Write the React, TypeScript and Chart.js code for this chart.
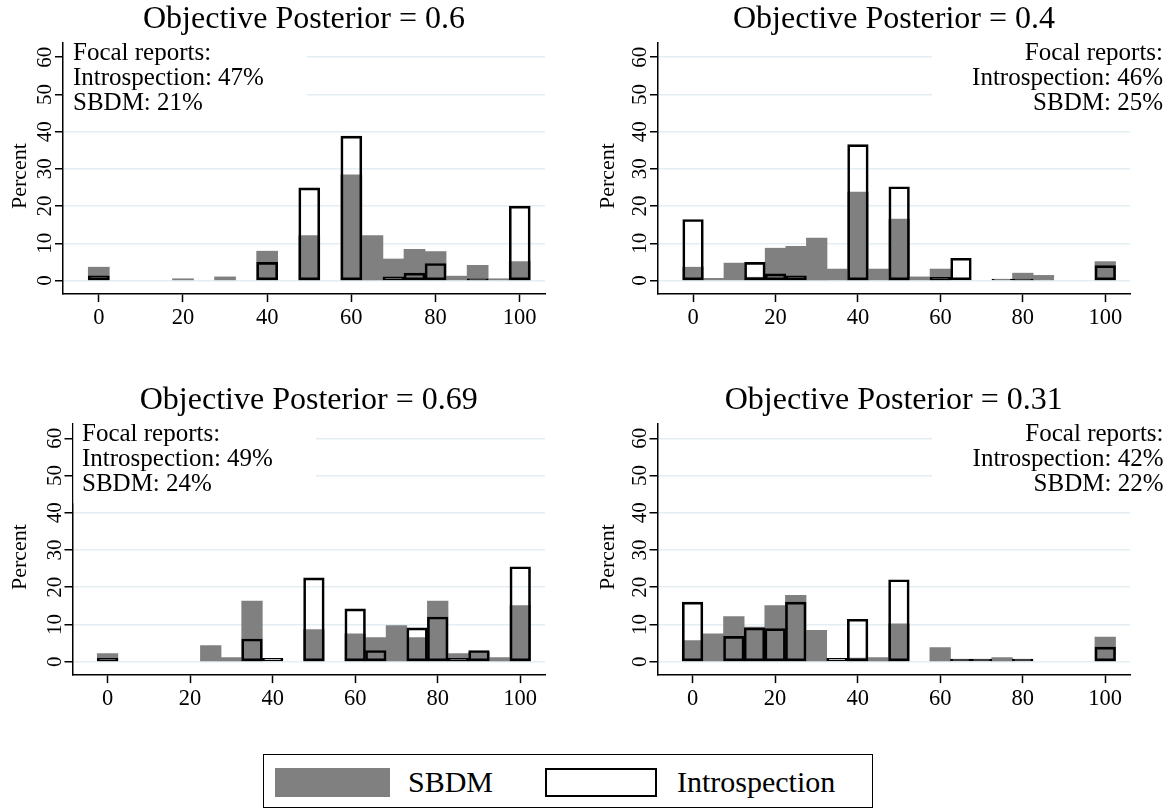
import React, { useEffect, useRef } from "react";
import { Chart, registerables } from "chart.js";
Chart.register(...registerables);

const FONT = "'Liberation Serif', 'Times New Roman', Times, serif";

// ---------- data ----------
const binCenters = [0, 5, 10, 15, 20, 25, 30, 35, 40, 45, 50, 55, 60, 65, 70, 75, 80, 85, 90, 95, 100];
const xTickValues = [0, 20, 40, 60, 80, 100];
const yTickValues = [0, 10, 20, 30, 40, 50, 60];

const titles = [
  "Objective Posterior = 0.6",
  "Objective Posterior = 0.4",
  "Objective Posterior = 0.69",
  "Objective Posterior = 0.31",
];

//                 0    5     10    15    20    25    30    35    40    45    50    55    60    65    70    75    80    85    90    95    100
const sbdm060 = [3.6, null, null, null, 0.5, null, 1.0, null, 7.9, null, 12.1, null, 28.4, 12.1, 5.8, 8.4, 7.8, 1.2, 4.1, 0.5, 5.1];
const intro060 = [1.3, null, null, null, null, null, null, null, 4.9, null, 24.9, null, 38.8, null, 1.0, 2.0, 4.6, null, 0.5, null, 20.0];

const sbdm040 = [3.6, 0.6, 4.7, 0.9, 8.7, 9.2, 11.4, 3.1, 23.8, 3.1, 16.5, 1.0, 3.1, null, null, null, 2.0, 1.4, null, null, 5.1];
const intro040 = [16.4, null, null, 4.9, 1.8, 1.3, null, null, 36.5, null, 25.2, null, 0.9, 6.0, null, 0.4, 0.4, null, null, null, 4.0];

const sbdm069 = [2.2, null, null, null, null, 4.3, 1.1, 16.3, null, null, 8.6, null, 7.5, 6.5, 9.7, 6.5, 16.3, 2.2, 2.5, 1.1, 15.1];
const intro069 = [0.9, null, null, null, null, null, null, 6.1, 0.9, null, 22.5, null, 14.2, 3.0, null, 9.1, 12.0, 0.9, 3.0, null, 25.5];

const sbdm031 = [5.7, 7.5, 12.1, 9.3, 15.1, 17.8, 8.4, null, 1.0, 1.1, 10.2, null, 3.8, null, null, 1.1, null, null, null, null, 6.6];
const intro031 = [16.0, null, 6.8, 9.1, 8.9, 16.0, null, 0.9, 11.4, null, 22.0, null, null, 0.7, 0.7, null, 0.7, null, null, null, 3.9];

const focal060 = ["Focal reports:", "Introspection: 47%", "SBDM: 21%"];
const focal040 = ["Focal reports:", "Introspection: 46%", "SBDM: 25%"];
const focal069 = ["Focal reports:", "Introspection: 49%", "SBDM: 24%"];
const focal031 = ["Focal reports:", "Introspection: 42%", "SBDM: 22%"];

const legendLabels = ["SBDM", "Introspection"];
const yAxisTitle = "Percent";

const panelData = [
  { title: titles[0], sbdm: sbdm060, intro: intro060, focal: focal060 },
  { title: titles[1], sbdm: sbdm040, intro: intro040, focal: focal040 },
  { title: titles[2], sbdm: sbdm069, intro: intro069, focal: focal069 },
  { title: titles[3], sbdm: sbdm031, intro: intro031, focal: focal031 },
];

// ---------- layout / style ----------
const GRAY = "#808080";
const GRID = "#e4edf1";
const X_RANGE = { min: -8.5, max: 106 };
const Y_RANGE = { min: -3.6, max: 63.8 };
const X_TICK_FONT = 22.5;
const Y_TICK_FONT = 21;

type Layout = {
  left: number; top: number; w: number; h: number;
  area: { l: number; r: number; t: number; b: number };
  align: "left" | "right"; boxEdge: number; textX: number;
};

const LAYOUT: Layout[] = [
  { left: 0, top: 0, w: 588, h: 380, area: { l: 63, r: 545, t: 43, b: 294 }, align: "left", boxEdge: 307, textX: 73 },
  { left: 588, top: 0, w: 588, h: 380, area: { l: 70, r: 542, t: 43, b: 294 }, align: "right", boxEdge: 344, textX: 575 },
  { left: 0, top: 380, w: 588, h: 370, area: { l: 72.5, r: 545, t: 44.1, b: 295.1 }, align: "left", boxEdge: 316, textX: 82 },
  { left: 588, top: 380, w: 588, h: 370, area: { l: 69.5, r: 542, t: 44.1, b: 295.1 }, align: "right", boxEdge: 344, textX: 575.5 },
];

function Panel({ idx }: { idx: number }) {
  const ref = useRef<HTMLCanvasElement>(null);
  const L = LAYOUT[idx];
  useEffect(() => {
    const D = panelData[idx];
    const XH = 40;
    const overlay = {
      id: "overlay" + idx,
      beforeDatasetsDraw(chart: any) {
        const ctx = chart.ctx as CanvasRenderingContext2D;
        const a = chart.chartArea;
        const ys = chart.scales.y;
        ctx.save();
        // white background box for the text
        ctx.fillStyle = "#ffffff";
        if (L.align === "left") ctx.fillRect(a.left + 1, a.top - 1, L.boxEdge - a.left - 1, 80);
        else ctx.fillRect(L.boxEdge, a.top - 1, a.right - L.boxEdge + 2, 80);
        ctx.fillStyle = "#000";
        ctx.textBaseline = "alphabetic";
        // focal text
        ctx.font = `25px ${FONT}`;
        ctx.textAlign = L.align;
        D.focal.forEach((s, i) => ctx.fillText(s, L.textX, a.top + 17 + 25 * i));
        // title
        ctx.font = `32px ${FONT}`;
        ctx.textAlign = "center";
        ctx.fillText(D.title, (a.left + a.right) / 2, a.top - 15);
        // y tick labels (rotated)
        ctx.font = `${Y_TICK_FONT}px ${FONT}`;
        yTickValues.forEach((v) => {
          const py = ys.getPixelForValue(v);
          ctx.save();
          ctx.translate(a.left - 19, py);
          ctx.rotate(-Math.PI / 2);
          ctx.textAlign = "center";
          ctx.fillText(String(v), 0, 0.34 * Y_TICK_FONT);
          ctx.restore();
        });
        // y axis title
        ctx.font = `22px ${FONT}`;
        ctx.save();
        ctx.translate(26, a.top + 133);
        ctx.rotate(-Math.PI / 2);
        ctx.textAlign = "center";
        ctx.fillText(yAxisTitle, 0, 0);
        ctx.restore();
        ctx.restore();
      },
    };
    const toPts = (arr: (number | null)[]) => binCenters.map((b, i) => ({ x: b, y: arr[i] }));
    const chart = new Chart(ref.current as HTMLCanvasElement, {
      type: "bar",
      data: {
        datasets: [
          {
            label: legendLabels[1],
            data: toPts(D.intro) as any,
            backgroundColor: "rgba(0,0,0,0)",
            borderColor: "#000",
            borderWidth: 2,
            borderSkipped: false,
            order: 0,
            grouped: false,
            barPercentage: 1,
            categoryPercentage: 1,
          } as any,
          {
            label: legendLabels[0],
            data: toPts(D.sbdm) as any,
            backgroundColor: GRAY,
            borderWidth: 0,
            order: 1,
            grouped: false,
            barPercentage: 1,
            categoryPercentage: 1,
          } as any,
        ],
      },
      options: {
        responsive: false,
        animation: false,
        layout: { padding: { left: 0, top: L.area.t, right: L.w - L.area.r, bottom: L.h - L.area.b - XH } },
        plugins: { legend: { display: false }, tooltip: { enabled: false }, title: { display: false } },
        scales: {
          x: {
            type: "linear",
            min: X_RANGE.min,
            max: X_RANGE.max,
            offset: false,
            afterBuildTicks: (s: any) => { s.ticks = xTickValues.map((v) => ({ value: v })); },
            afterFit: (s: any) => { s.height = XH; },
            grid: { display: true, offset: false, drawOnChartArea: false, drawTicks: true, tickLength: 8, tickColor: "#000", tickWidth: 1.5 },
            border: { display: true, color: "#000", width: 1.5 },
            ticks: { font: { family: FONT, size: X_TICK_FONT }, color: "#000", padding: 2.5, maxRotation: 0, autoSkip: false, callback: (v: any) => String(v) },
          },
          y: {
            type: "linear",
            min: Y_RANGE.min,
            max: Y_RANGE.max,
            afterBuildTicks: (s: any) => { s.ticks = yTickValues.map((v) => ({ value: v })); },
            afterFit: (s: any) => { s.width = L.area.l; },
            grid: { color: GRID, lineWidth: 1.5, drawTicks: true, tickLength: 8, tickColor: "#000", tickWidth: 1.5 },
            border: { display: true, color: "#000", width: 1.5 },
            ticks: { display: false },
          },
        } as any,
      },
      plugins: [overlay],
    });
    return () => chart.destroy();
  }, [idx]);
  return (
    <canvas
      ref={ref}
      width={L.w}
      height={L.h}
      style={{ position: "absolute", left: L.left, top: L.top, width: L.w, height: L.h }}
    />
  );
}

export default function App() {
  const legendText: React.CSSProperties = {
    position: "absolute",
    fontFamily: FONT,
    fontSize: 30,
    lineHeight: "30px",
    color: "#000",
    whiteSpace: "nowrap",
  };
  return (
    <div style={{ position: "absolute", left: 0, top: 0, width: 1176, height: 809, background: "#fff", overflow: "hidden" }}>
      {[0, 1, 2, 3].map((i) => (
        <Panel key={i} idx={i} />
      ))}
      <div style={{ position: "absolute", left: 262.5, top: 754, width: 610, height: 54, border: "1.5px solid #000", boxSizing: "border-box", background: "#fff" }} />
      <div style={{ position: "absolute", left: 275, top: 767.7, width: 115, height: 29.6, background: GRAY }} />
      <div style={{ ...legendText, left: 408, top: 766.6 }}>{legendLabels[0]}</div>
      <div style={{ position: "absolute", left: 545, top: 767.7, width: 112, height: 29.6, border: "2px solid #000", boxSizing: "border-box", background: "#fff" }} />
      <div style={{ ...legendText, left: 677, top: 766.6 }}>{legendLabels[1]}</div>
    </div>
  );
}
